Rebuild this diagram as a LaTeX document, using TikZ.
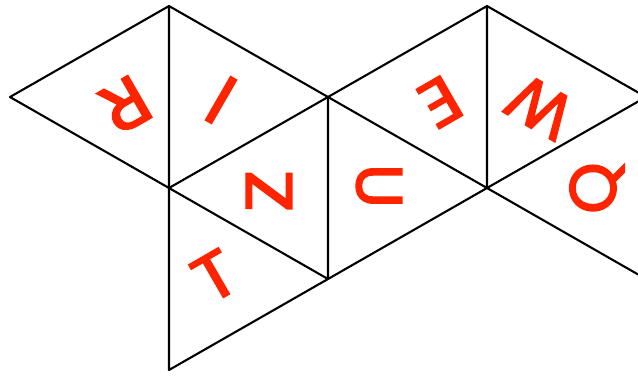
\documentclass[tikz,border=0pt]{standalone}
\usepackage{fontspec}
\newfontfamily\letterfont[FakeBold=2.6]{Poppins}
\definecolor{letterred}{RGB}{255,36,0}
\tikzset{
  edge/.style={draw=black, line width=2.1pt, line join=round},
  letter/.style={text=letterred, inner sep=0pt, font=\letterfont\fontsize{65}{65}\selectfont}
}
\begin{document}
\begin{tikzpicture}[x=1pt, y=-1pt]
\useasboundingbox (0,0) rectangle (638,376);
\clip (0,0) rectangle (638,376);
\coordinate (A) at (10,97);
\coordinate (B) at (169,6);
\coordinate (C) at (169,188);
\coordinate (D) at (328,97);
\coordinate (E) at (328,279);
\coordinate (F) at (169,370);
\coordinate (G) at (487,6);
\coordinate (H) at (487,188);
\coordinate (I) at (646,97);
\coordinate (J) at (646,279);
% triangles around C
\draw[edge] (A) -- (B) -- (C) -- cycle;
\draw[edge] (B) -- (D) -- (C);
\draw[edge] (D) -- (E) -- (C);
\draw[edge] (E) -- (F) -- (C);
% triangles around H
\draw[edge] (D) -- (G) -- (H) -- (D);
\draw[edge] (E) -- (H);
\draw[edge] (G) -- (I) -- (H) -- (J);
% letters
\node[letter, rotate=-150, xscale=1.15, yscale=1.06] (lr) at (125,105) {R};
\node[letter, rotate=150, yscale=1.1, xscale=1.1] (li) at (221,100) {I};
\node[letter, rotate=90, xscale=1.2] (lz) at (269,191) {Z};
\node[letter, rotate=30, xscale=1.1] (lt) at (215,276) {T};
\node[letter, rotate=-90] (lu) at (379,186) {U};
\node[letter, rotate=-150, xscale=1.1] (le) at (440,102) {E};
\node[letter, rotate=150] (lw) at (540,107) {W};
\node[letter, rotate=90] (lq) at (597,188) {Q};
\end{tikzpicture}
\end{document}
